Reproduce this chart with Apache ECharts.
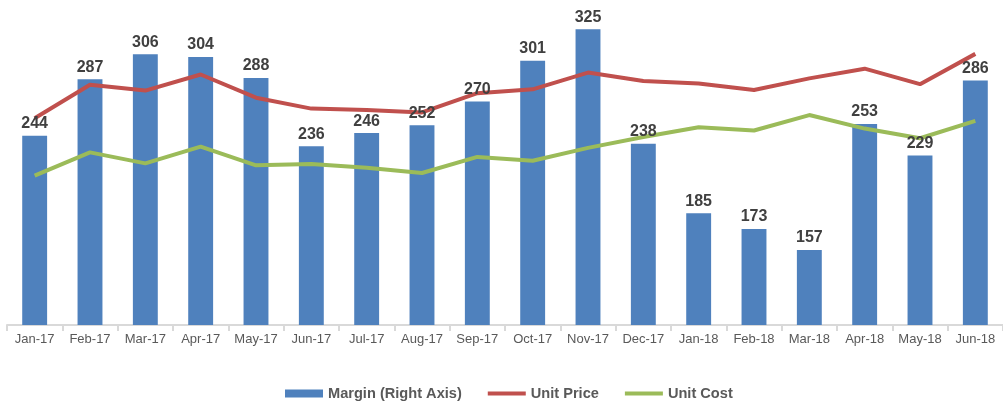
<!DOCTYPE html>
<html>
<head>
<meta charset="utf-8">
<script src="https://cdn.jsdelivr.net/npm/echarts@6/dist/echarts.min.js"></script>
<style>
html,body{margin:0;padding:0;background:#fff;}
#chart{width:1003px;height:408px;}
</style>
</head>
<body>
<div id="chart"></div>
<script>
var categories = ['Jan-17','Feb-17','Mar-17','Apr-17','May-17','Jun-17','Jul-17','Aug-17','Sep-17','Oct-17','Nov-17','Dec-17','Jan-18','Feb-18','Mar-18','Apr-18','May-18','Jun-18'];
var margin = [244,287,306,304,288,236,246,252,270,301,325,238,185,173,157,253,229,286];
var unitPrice = [32.1,37.3,36.4,38.9,35.3,33.6,33.4,33.0,36.0,36.6,39.2,37.9,37.5,36.5,38.3,39.8,37.4,42.1];
var unitCost = [23.2,26.8,25.1,27.7,24.8,25.0,24.4,23.6,26.1,25.5,27.5,29.2,30.7,30.2,32.6,30.5,29.0,31.7];

var chart = echarts.init(document.getElementById('chart'), null, {renderer:'canvas'});
var font = 'Liberation Sans, Arial, sans-serif';
chart.setOption({
  animation: false,
  textStyle: {fontFamily: font},
  grid: {left: 7, width: 997, top: 3, bottom: 83, containLabel: false},
  legend: {
    bottom: 2,
    left: 280,
    itemWidth: 38,
    itemHeight: 8,
    itemGap: 24,
    itemTextGap: 4,
    textStyle: {color: '#595959', fontSize: 14.6, fontWeight: 'bold', fontFamily: font},
    data: [
      {name: 'Margin (Right Axis)', icon: 'rect'},
      {name: 'Unit Price', itemStyle: {color: 'rgba(0,0,0,0)', borderWidth: 0}, lineStyle: {width: 4, color: '#C0504D'}},
      {name: 'Unit Cost', itemStyle: {color: 'rgba(0,0,0,0)', borderWidth: 0}, lineStyle: {width: 4, color: '#9BBB59'}}
    ]
  },
  xAxis: {
    type: 'category',
    data: categories,
    boundaryGap: true,
    axisLine: {lineStyle: {color: '#d9d9d9', width: 2}},
    axisTick: {show: true, length: 6, lineStyle: {color: '#d9d9d9', width: 2}},
    axisLabel: {color: '#595959', fontSize: 13, margin: 8, interval: 0, fontFamily: font}
  },
  yAxis: [
    {type: 'value', min: 0, max: 50, show: false, splitLine: {show: false}},
    {type: 'value', min: 100, max: 345, show: false, splitLine: {show: false}}
  ],
  series: [
    {
      name: 'Margin (Right Axis)',
      type: 'bar',
      yAxisIndex: 1,
      data: margin,
      barWidth: '45%',
      z: 1,
      itemStyle: {color: '#4F81BD'}
    },
    {
      name: 'Unit Price',
      type: 'line',
      yAxisIndex: 0,
      data: unitPrice,
      symbol: 'none',
      z: 3,
      lineStyle: {color: '#C0504D', width: 4},
      itemStyle: {color: '#C0504D'}
    },
    {
      name: 'Unit Cost',
      type: 'line',
      yAxisIndex: 0,
      data: unitCost,
      symbol: 'none',
      z: 3,
      lineStyle: {color: '#9BBB59', width: 4},
      itemStyle: {color: '#9BBB59'}
    },
    {
      name: 'Margin labels',
      type: 'bar',
      yAxisIndex: 1,
      data: margin,
      barWidth: '45%',
      barGap: '-100%',
      z: 10,
      silent: true,
      itemStyle: {color: 'rgba(0,0,0,0)'},
      label: {show: true, position: 'top', distance: 4, color: '#404040', fontSize: 16, fontWeight: 'bold', fontFamily: font}
    }
  ]
});
</script>
</body>
</html>
